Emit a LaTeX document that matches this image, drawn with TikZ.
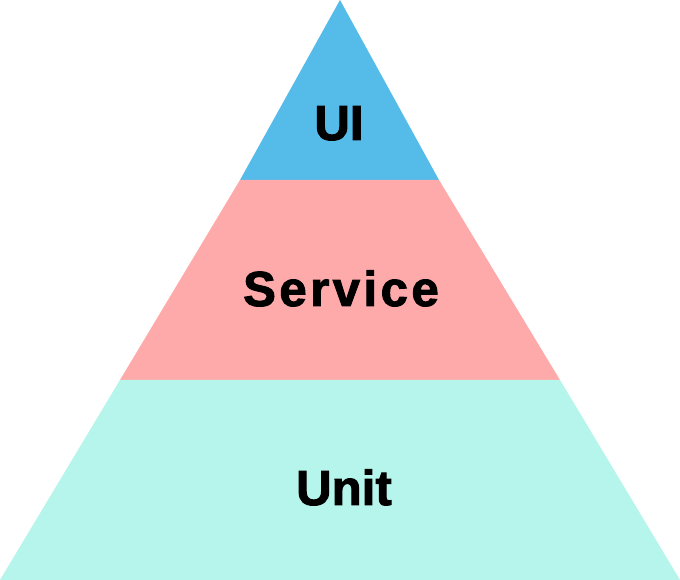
\documentclass[tikz,border=0pt]{standalone}
\usepackage{fontspec}
\setmainfont{Liberation Sans}[BoldFeatures={FakeBold=2}]
\definecolor{uiblue}{RGB}{85,187,233}
\definecolor{svcpink}{RGB}{255,170,170}
\definecolor{unitmint}{RGB}{181,245,235}
\begin{document}
\begin{tikzpicture}[x=0.02cm, y=-0.02cm,
    lbl/.style={anchor=base, inner sep=0pt, font=\fontsize{28}{32}\selectfont\bfseries}]
  \useasboundingbox (0,0) rectangle (680,580);
  \fill[uiblue] (340,0) -- (439,180) -- (240,180) -- cycle;
  \fill[svcpink] (240,180) -- (439,180) -- (560,380) -- (120,380) -- cycle;
  \fill[unitmint] (120,380) -- (560,380) -- (680,580) -- (0,580) -- cycle;
  \node[lbl] (ui) at (339,140) {UI};
  \node[lbl] (service) at (341,306) {\addfontfeature{LetterSpace=7}Service};
  \node[lbl] (unit) at (344,505) {Unit};
\end{tikzpicture}
\end{document}
